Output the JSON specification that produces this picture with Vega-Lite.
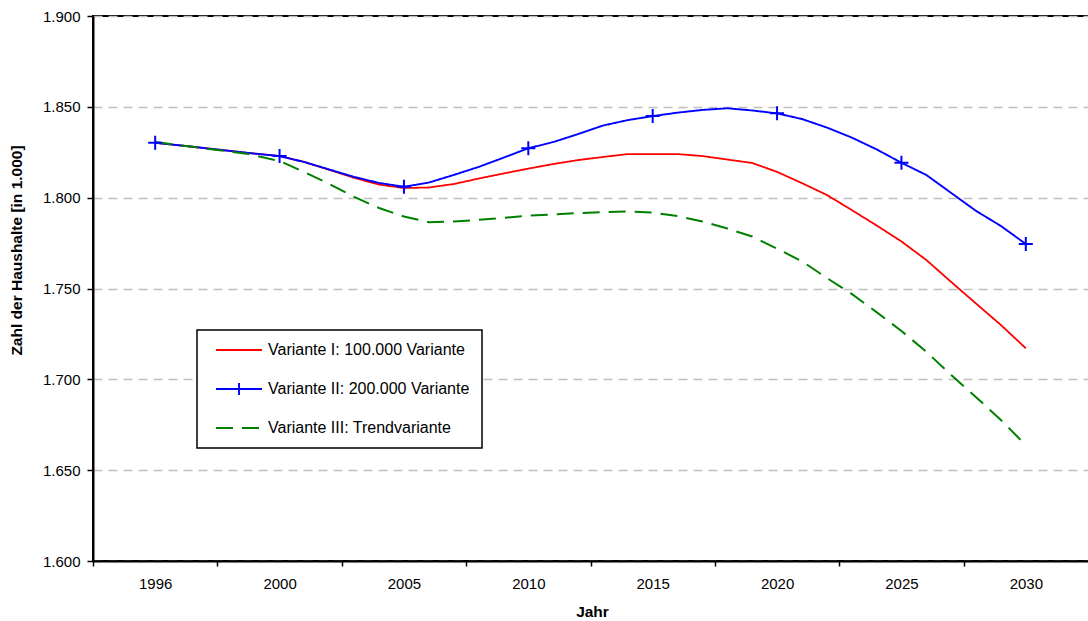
{
  "$schema": "https://vega.github.io/schema/vega-lite/v6.json",
  "autosize": {"type": "none"},
  "padding": {"left": 93, "top": 16, "right": 0, "bottom": 60},
  "width": 1000,
  "height": 545,
  "background": "white",
  "config": {
    "font": "Liberation Sans",
    "view": {"stroke": "#000000", "strokeWidth": 2},
    "axis": {"labelColor": "#000000", "titleColor": "#000000", "domainColor": "#000000", "tickColor": "#000000", "domainWidth": 2, "tickWidth": 1.5, "labelFontSize": 15, "titleFontSize": 15.5, "titleFontWeight": "bold", "labelFont": "Liberation Sans", "titleFont": "Liberation Sans"}
  },
  "data": {"values": [
    {"series": "Variante I: 100.000 Variante", "year": 1996, "value": 1830.2},
    {"series": "Variante I: 100.000 Variante", "year": 1997, "value": 1828.4},
    {"series": "Variante I: 100.000 Variante", "year": 1998, "value": 1826.5},
    {"series": "Variante I: 100.000 Variante", "year": 1999, "value": 1824.6},
    {"series": "Variante I: 100.000 Variante", "year": 2000, "value": 1822.9},
    {"series": "Variante I: 100.000 Variante", "year": 2001, "value": 1819.6},
    {"series": "Variante I: 100.000 Variante", "year": 2002, "value": 1815.3},
    {"series": "Variante I: 100.000 Variante", "year": 2003, "value": 1810.9},
    {"series": "Variante I: 100.000 Variante", "year": 2004, "value": 1807.2},
    {"series": "Variante I: 100.000 Variante", "year": 2005, "value": 1805.3},
    {"series": "Variante I: 100.000 Variante", "year": 2006, "value": 1805.6},
    {"series": "Variante I: 100.000 Variante", "year": 2007, "value": 1807.5},
    {"series": "Variante I: 100.000 Variante", "year": 2008, "value": 1810.5},
    {"series": "Variante I: 100.000 Variante", "year": 2009, "value": 1813.3},
    {"series": "Variante I: 100.000 Variante", "year": 2010, "value": 1816.0},
    {"series": "Variante I: 100.000 Variante", "year": 2011, "value": 1818.5},
    {"series": "Variante I: 100.000 Variante", "year": 2012, "value": 1820.7},
    {"series": "Variante I: 100.000 Variante", "year": 2013, "value": 1822.4},
    {"series": "Variante I: 100.000 Variante", "year": 2014, "value": 1824.0},
    {"series": "Variante I: 100.000 Variante", "year": 2015, "value": 1824.0},
    {"series": "Variante I: 100.000 Variante", "year": 2016, "value": 1824.0},
    {"series": "Variante I: 100.000 Variante", "year": 2017, "value": 1822.9},
    {"series": "Variante I: 100.000 Variante", "year": 2018, "value": 1821.0},
    {"series": "Variante I: 100.000 Variante", "year": 2019, "value": 1819.1},
    {"series": "Variante I: 100.000 Variante", "year": 2020, "value": 1814.2},
    {"series": "Variante I: 100.000 Variante", "year": 2021, "value": 1808.0},
    {"series": "Variante I: 100.000 Variante", "year": 2022, "value": 1801.5},
    {"series": "Variante I: 100.000 Variante", "year": 2023, "value": 1793.2},
    {"series": "Variante I: 100.000 Variante", "year": 2024, "value": 1784.7},
    {"series": "Variante I: 100.000 Variante", "year": 2025, "value": 1775.9},
    {"series": "Variante I: 100.000 Variante", "year": 2026, "value": 1765.7},
    {"series": "Variante I: 100.000 Variante", "year": 2027, "value": 1753.6},
    {"series": "Variante I: 100.000 Variante", "year": 2028, "value": 1741.7},
    {"series": "Variante I: 100.000 Variante", "year": 2029, "value": 1729.9},
    {"series": "Variante I: 100.000 Variante", "year": 2030, "value": 1717.1},
    {"series": "Variante II: 200.000 Variante", "year": 1996, "value": 1830.2},
    {"series": "Variante II: 200.000 Variante", "year": 1997, "value": 1828.4},
    {"series": "Variante II: 200.000 Variante", "year": 1998, "value": 1826.5},
    {"series": "Variante II: 200.000 Variante", "year": 1999, "value": 1824.6},
    {"series": "Variante II: 200.000 Variante", "year": 2000, "value": 1822.9},
    {"series": "Variante II: 200.000 Variante", "year": 2001, "value": 1819.6},
    {"series": "Variante II: 200.000 Variante", "year": 2002, "value": 1815.5},
    {"series": "Variante II: 200.000 Variante", "year": 2003, "value": 1811.4},
    {"series": "Variante II: 200.000 Variante", "year": 2004, "value": 1808.1},
    {"series": "Variante II: 200.000 Variante", "year": 2005, "value": 1806.0},
    {"series": "Variante II: 200.000 Variante", "year": 2006, "value": 1808.3},
    {"series": "Variante II: 200.000 Variante", "year": 2007, "value": 1812.5},
    {"series": "Variante II: 200.000 Variante", "year": 2008, "value": 1816.9},
    {"series": "Variante II: 200.000 Variante", "year": 2009, "value": 1822.0},
    {"series": "Variante II: 200.000 Variante", "year": 2010, "value": 1827.2},
    {"series": "Variante II: 200.000 Variante", "year": 2011, "value": 1830.6},
    {"series": "Variante II: 200.000 Variante", "year": 2012, "value": 1835.0},
    {"series": "Variante II: 200.000 Variante", "year": 2013, "value": 1839.7},
    {"series": "Variante II: 200.000 Variante", "year": 2014, "value": 1842.7},
    {"series": "Variante II: 200.000 Variante", "year": 2015, "value": 1844.9},
    {"series": "Variante II: 200.000 Variante", "year": 2016, "value": 1846.8},
    {"series": "Variante II: 200.000 Variante", "year": 2017, "value": 1848.3},
    {"series": "Variante II: 200.000 Variante", "year": 2018, "value": 1849.2},
    {"series": "Variante II: 200.000 Variante", "year": 2019, "value": 1848.0},
    {"series": "Variante II: 200.000 Variante", "year": 2020, "value": 1846.4},
    {"series": "Variante II: 200.000 Variante", "year": 2021, "value": 1843.3},
    {"series": "Variante II: 200.000 Variante", "year": 2022, "value": 1838.6},
    {"series": "Variante II: 200.000 Variante", "year": 2023, "value": 1833.1},
    {"series": "Variante II: 200.000 Variante", "year": 2024, "value": 1826.6},
    {"series": "Variante II: 200.000 Variante", "year": 2025, "value": 1819.2},
    {"series": "Variante II: 200.000 Variante", "year": 2026, "value": 1812.5},
    {"series": "Variante II: 200.000 Variante", "year": 2027, "value": 1802.6},
    {"series": "Variante II: 200.000 Variante", "year": 2028, "value": 1792.7},
    {"series": "Variante II: 200.000 Variante", "year": 2029, "value": 1784.4},
    {"series": "Variante II: 200.000 Variante", "year": 2030, "value": 1774.5},
    {"series": "Variante III: Trendvariante", "year": 1996, "value": 1830.6},
    {"series": "Variante III: Trendvariante", "year": 1997, "value": 1828.4},
    {"series": "Variante III: Trendvariante", "year": 1998, "value": 1826.2},
    {"series": "Variante III: Trendvariante", "year": 1999, "value": 1824.0},
    {"series": "Variante III: Trendvariante", "year": 2000, "value": 1820.2},
    {"series": "Variante III: Trendvariante", "year": 2001, "value": 1814.1},
    {"series": "Variante III: Trendvariante", "year": 2002, "value": 1807.5},
    {"series": "Variante III: Trendvariante", "year": 2003, "value": 1800.4},
    {"series": "Variante III: Trendvariante", "year": 2004, "value": 1794.3},
    {"series": "Variante III: Trendvariante", "year": 2005, "value": 1789.6},
    {"series": "Variante III: Trendvariante", "year": 2006, "value": 1786.5},
    {"series": "Variante III: Trendvariante", "year": 2007, "value": 1786.9},
    {"series": "Variante III: Trendvariante", "year": 2008, "value": 1787.8},
    {"series": "Variante III: Trendvariante", "year": 2009, "value": 1788.8},
    {"series": "Variante III: Trendvariante", "year": 2010, "value": 1790.2},
    {"series": "Variante III: Trendvariante", "year": 2011, "value": 1790.7},
    {"series": "Variante III: Trendvariante", "year": 2012, "value": 1791.5},
    {"series": "Variante III: Trendvariante", "year": 2013, "value": 1792.1},
    {"series": "Variante III: Trendvariante", "year": 2014, "value": 1792.4},
    {"series": "Variante III: Trendvariante", "year": 2015, "value": 1791.8},
    {"series": "Variante III: Trendvariante", "year": 2016, "value": 1789.9},
    {"series": "Variante III: Trendvariante", "year": 2017, "value": 1786.9},
    {"series": "Variante III: Trendvariante", "year": 2018, "value": 1783.0},
    {"series": "Variante III: Trendvariante", "year": 2019, "value": 1778.6},
    {"series": "Variante III: Trendvariante", "year": 2020, "value": 1771.9},
    {"series": "Variante III: Trendvariante", "year": 2021, "value": 1765.0},
    {"series": "Variante III: Trendvariante", "year": 2022, "value": 1755.8},
    {"series": "Variante III: Trendvariante", "year": 2023, "value": 1747.0},
    {"series": "Variante III: Trendvariante", "year": 2024, "value": 1737.0},
    {"series": "Variante III: Trendvariante", "year": 2025, "value": 1726.6},
    {"series": "Variante III: Trendvariante", "year": 2026, "value": 1715.2},
    {"series": "Variante III: Trendvariante", "year": 2027, "value": 1702.4},
    {"series": "Variante III: Trendvariante", "year": 2028, "value": 1690.2},
    {"series": "Variante III: Trendvariante", "year": 2029, "value": 1677.6},
    {"series": "Variante III: Trendvariante", "year": 2030, "value": 1663.8}
  ]},
  "encoding": {
    "x": {
      "field": "year", "type": "quantitative",
      "scale": {
        "domain": [1994, 1996, 2000, 2005, 2010, 2015, 2020, 2025, 2030, 2032.5],
        "range": [0, 62.19, 186.56, 310.94, 435.31, 559.69, 684.06, 808.44, 932.81, 995],
        "zero": false, "nice": false
      },
      "axis": {
        "title": "Jahr",
        "values": [1994, 1998, 2002.5, 2007.5, 2012.5, 2017.5, 2022.5, 2027.5],
        "labelExpr": "['1996','2000','2005','2010','2015','2020','2025','2030'][indexof([1994,1998,2002.5,2007.5,2012.5,2017.5,2022.5,2027.5], datum.value)]",
        "labelOffset": 62.19,
        "labelFlush": false,
        "labelOverlap": false,
        "labelBound": false,
        "labelPadding": 10,
        "tickSize": 5,
        "grid": false,
        "titlePadding": 13,
        "titleX": 499
      }
    },
    "y": {
      "field": "value", "type": "quantitative",
      "scale": {"domain": [1600, 1900], "zero": false, "nice": false},
      "axis": {
        "title": "Zahl der Haushalte [in 1.000]",
        "values": [1600, 1650, 1700, 1750, 1800, 1850, 1900],
        "labelExpr": "replace(format(datum.value, ','), ',', '.')",
        "tickSize": 6,
        "labelPadding": 7,
        "grid": true,
        "gridColor": "#c0c0c0",
        "gridDash": [9, 6],
        "gridWidth": 1.5,
        "titleX": -69,
        "titleY": 234
      }
    }
  },
  "layer": [
    {
      "mark": {"type": "line", "interpolate": "linear"},
      "encoding": {
        "color": {
          "field": "series", "type": "nominal",
          "scale": {
            "domain": ["Variante I: 100.000 Variante", "Variante II: 200.000 Variante", "Variante III: Trendvariante"],
            "range": ["#ff0000", "#0000ff", "#008000"]
          },
          "legend": {
            "title": null,
            "orient": "none",
            "legendX": 104,
            "legendY": 314,
            "fillColor": "#ffffff",
            "strokeColor": "#000000",
            "padding": 12,
            "rowPadding": 21,
            "symbolSize": 100,
            "labelOffset": 43,
            "labelFontSize": 16,
            "labelColor": "#000000",
            "labelFont": "Liberation Sans",
            "labelLimit": 400,
            "encode": {
              "legend": {"update": {"strokeWidth": {"value": 1.5}}},
              "symbols": {"update": {
                "shape": {"signal": "datum.value === 'Variante II: 200.000 Variante' ? 'M-0.2,0L9,0M4.4,-1.2L4.4,1.2' : 'M-0.2,0L9,0'"},
                "strokeDash": {"signal": "datum.value === 'Variante III: Trendvariante' ? [22, 8] : [1, 0]"},
                "strokeWidth": {"signal": "datum.value === 'Variante III: Trendvariante' ? 3 : 2"}
              }}
            }
          }
        },
        "strokeDash": {
          "field": "series", "type": "nominal",
          "scale": {
            "domain": ["Variante I: 100.000 Variante", "Variante II: 200.000 Variante", "Variante III: Trendvariante"],
            "range": [[1, 0], [1, 0], [17, 9]]
          },
          "legend": null
        },
        "strokeWidth": {
          "field": "series", "type": "nominal",
          "scale": {
            "domain": ["Variante I: 100.000 Variante", "Variante II: 200.000 Variante", "Variante III: Trendvariante"],
            "range": [1.8, 2, 3.2]
          },
          "legend": null
        }
      }
    },
    {
      "transform": [
        {"filter": "datum.series === 'Variante II: 200.000 Variante'"},
        {"filter": {"field": "year", "oneOf": [1996, 2000, 2005, 2010, 2015, 2020, 2025, 2030]}}
      ],
      "mark": {"type": "point", "shape": "M-1,0L1,0M0,-1L0,1", "size": 196, "filled": false, "stroke": "#0000ff", "strokeWidth": 2, "opacity": 1}
    }
  ]
}
